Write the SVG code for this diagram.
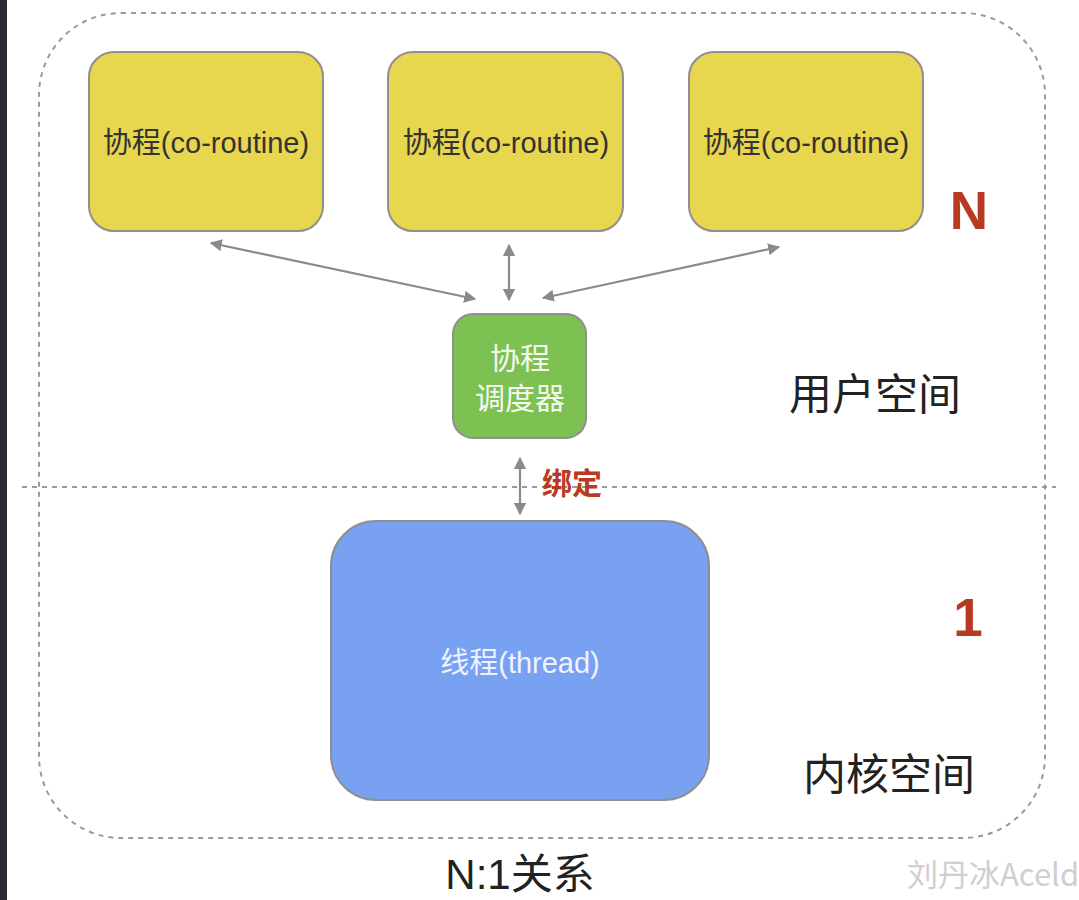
<svg xmlns="http://www.w3.org/2000/svg" width="1079" height="900" viewBox="0 0 1079 900">
<defs>
<style>
.co{fill:#e8d64e;stroke:#8f8f8f;stroke-width:2}
.t{font-family:"Liberation Sans","Noto Sans CJK SC",sans-serif}
.conn{stroke:#8a8a8a;stroke-width:2.2;fill:none}
.big{font-family:"Liberation Sans","Noto Sans CJK SC",sans-serif;font-weight:bold;fill:#b83a22;font-size:53px}
.lbl{font-family:"Noto Sans CJK SC","Liberation Sans",sans-serif;fill:#222;font-size:43px}
</style>
<marker id="ah" viewBox="0 0 10 10" refX="9" refY="5" markerWidth="5.5" markerHeight="5.5" orient="auto-start-reverse" markerUnits="strokeWidth">
<path d="M0,0 L10,5 L0,10 z" fill="#8a8a8a"/>
</marker>
</defs>
<rect x="0" y="0" width="1079" height="900" fill="#ffffff"/>
<rect x="0" y="0" width="7" height="900" fill="#272a33"/>
<rect id="outer" x="39" y="13" width="1006" height="825" rx="82" ry="82" fill="none" stroke="#9a9a9a" stroke-width="2" stroke-dasharray="5,5"/>
<line x1="22" y1="487" x2="1056" y2="487" stroke="#9a9a9a" stroke-width="2" stroke-dasharray="5,5"/>

<g id="co1"><rect class="co" x="89" y="52" width="234" height="179" rx="25"/><text class="t" x="206" y="153" text-anchor="middle" font-size="29" fill="#333">协程(co-routine)</text></g>
<g id="co2"><rect class="co" x="388" y="52" width="235" height="179" rx="25"/><text class="t" x="506" y="153" text-anchor="middle" font-size="29" fill="#333">协程(co-routine)</text></g>
<g id="co3"><rect class="co" x="689" y="52" width="234" height="179" rx="25"/><text class="t" x="806" y="153" text-anchor="middle" font-size="29" fill="#333">协程(co-routine)</text></g>

<g id="sched"><rect x="453" y="314" width="133" height="124" rx="20" fill="#7dc153" stroke="#8f8f8f" stroke-width="2"/>
<text class="t" x="520" y="369" text-anchor="middle" font-size="30" fill="#f4f9ef">协程</text>
<text class="t" x="520" y="409" text-anchor="middle" font-size="30" fill="#f4f9ef">调度器</text></g>

<g id="thread"><rect x="331" y="521" width="378" height="279" rx="45" fill="#79a1f2" stroke="#8f8f8f" stroke-width="2"/>
<text class="t" x="520" y="673" text-anchor="middle" font-size="29" fill="#eef3fd">线程(thread)</text></g>

<g id="connectors">
<line class="conn" x1="211" y1="243" x2="475" y2="299" marker-start="url(#ah)" marker-end="url(#ah)"/>
<line class="conn" x1="509" y1="245" x2="509" y2="300" marker-start="url(#ah)" marker-end="url(#ah)"/>
<line class="conn" x1="779" y1="247" x2="543" y2="298" marker-start="url(#ah)" marker-end="url(#ah)"/>
<line class="conn" x1="520" y1="458" x2="520" y2="514" marker-start="url(#ah)" marker-end="url(#ah)"/>
</g>
<text class="t" x="542" y="494" font-size="30" font-weight="bold" fill="#b83a22">绑定</text>

<text class="big" x="969" y="229" text-anchor="middle">N</text>
<text class="big" x="968" y="636" text-anchor="middle">1</text>
<text class="lbl" x="875" y="410" text-anchor="middle">用户空间</text>
<text class="lbl" x="889" y="790" text-anchor="middle">内核空间</text>
<text class="t" x="520" y="889" text-anchor="middle" font-size="42" fill="#222">N:1关系</text>
<text x="907" y="886" font-family="Noto Sans CJK SC,Liberation Sans,sans-serif" font-size="31" fill="#cfcfcf">刘丹冰Aceld</text>
</svg>
